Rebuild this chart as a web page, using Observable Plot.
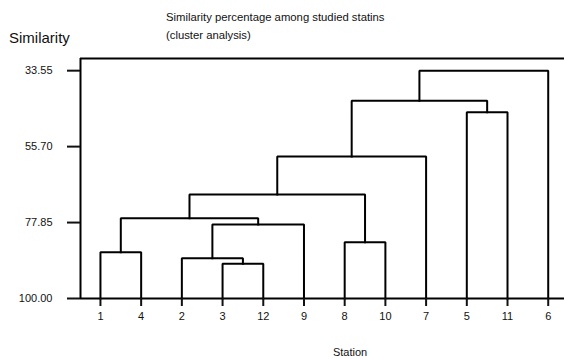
<!DOCTYPE html>
<html>
<head>
<meta charset="utf-8">
<script src="https://cdn.jsdelivr.net/npm/d3@7"></script>
<script src="https://cdn.jsdelivr.net/npm/@observablehq/plot@0.6"></script>
<style>
  html, body { margin: 0; padding: 0; background: white; }
  #chart svg { display: block; }
</style>
</head>
<body>
<div id="chart"></div>
<script>
// Leaf order along the x axis (stations)
const leaves = ["1", "4", "2", "3", "12", "9", "8", "10", "7", "5", "11", "6"];
// Merge steps: cluster Ck is produced by step k (1-based)
const mergeLeft  = ["1", "3", "2",  "C3", "C1", "8",  "C5", "C7", "5",  "C8", "C10"];
const mergeRight = ["4", "12", "C2", "9",  "C4", "10", "C6", "7",  "11", "C9", "6"];
const mergeHeight = [86.5, 89.9, 88.25, 78.4, 76.6, 83.6, 69.7, 58.6, 45.7, 42.3, 33.55];
// Y-axis tick values
const yTicks = [33.55, 55.70, 77.85, 100.00];
const yDomain = [100, 30];
const xDomain = [-0.49, 11.4];

// Build dendrogram polylines
const pos = new Map(leaves.map((l, i) => [l, {x: i, y: 100}]));
const pts = [];
mergeLeft.forEach((a, k) => {
  const b = mergeRight[k], h = mergeHeight[k];
  const A = pos.get(a), B = pos.get(b);
  pts.push({id: k, x: A.x, y: A.y}, {id: k, x: A.x, y: h}, {id: k, x: B.x, y: h}, {id: k, x: B.x, y: B.y});
  pos.set("C" + (k + 1), {x: (A.x + B.x) / 2, y: h});
});

const W = 564, H = 359;
const chart = Plot.plot({
  width: W,
  height: H,
  marginLeft: 80,
  marginRight: 0,
  marginTop: 58,
  marginBottom: 61,
  style: {fontFamily: "'Liberation Sans', Arial, sans-serif", fontSize: "11px", color: "#111", background: "white"},
  x: {type: "linear", domain: xDomain},
  y: {type: "linear", domain: yDomain},
  marks: [
    Plot.ruleY([yDomain[1]], {stroke: "black", strokeWidth: 2}),
    Plot.ruleY([yDomain[0]], {stroke: "black", strokeWidth: 2}),
    Plot.ruleX([xDomain[0]], {stroke: "black", strokeWidth: 2}),
    Plot.line(pts, {x: "x", y: "y", z: "id", stroke: "black", strokeWidth: 2, strokeLinejoin: "miter", strokeLinecap: "square"}),
    Plot.axisY({ticks: yTicks, tickFormat: d => d.toFixed(2), tickSize: 13, tickPadding: 15, strokeWidth: 2, label: null, fontSize: 11}),
    Plot.axisX({ticks: d3.range(leaves.length), tickFormat: i => leaves[i], tickSize: 8, tickPadding: 6, strokeWidth: 2, label: null, fontSize: 11})
  ]
});
document.getElementById("chart").appendChild(chart);

const svg = d3.select(chart);
const ff = "'Liberation Sans', Arial, sans-serif";
const g = svg.append("g").attr("text-anchor", "start").attr("font-family", ff).attr("fill", "#111");
g.append("text").attr("x", 166).attr("y", 21).attr("font-size", 11.3).attr("text-anchor", "start")
  .text("Similarity percentage among studied statins");
g.append("text").attr("x", 166).attr("y", 39).attr("font-size", 11.3).attr("text-anchor", "start")
  .text("(cluster analysis)");
g.append("text").attr("x", 9).attr("y", 43).attr("font-size", 15).attr("text-anchor", "start")
  .text("Similarity");
g.append("text").attr("x", 350).attr("y", 356).attr("font-size", 11).attr("text-anchor", "middle")
  .text("Station");
</script>
</body>
</html>
